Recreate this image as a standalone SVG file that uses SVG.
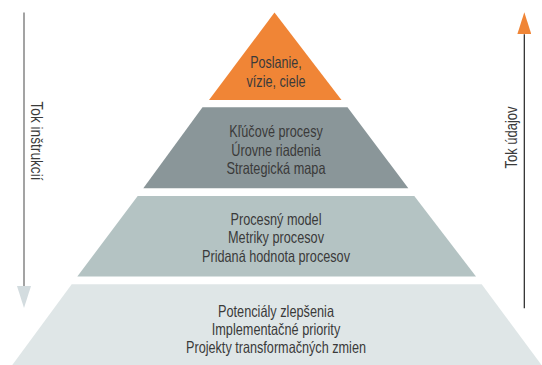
<svg xmlns="http://www.w3.org/2000/svg" width="542" height="365" viewBox="0 0 542 365">
<style>
.t{font-family:"Liberation Sans Narrow","Arial Narrow","Liberation Sans",sans-serif;font-size:16.5px;fill:#3a3a3a;text-anchor:middle}
.lbl{font-family:"Liberation Sans Narrow","Arial Narrow","Liberation Sans",sans-serif;font-size:16px;fill:#3a3a3a;text-anchor:middle}
</style>
<defs>
<marker id="hGray" markerUnits="userSpaceOnUse" viewBox="0 0 22 14" refX="0" refY="7" markerWidth="22" markerHeight="14" orient="auto"><path d="M0,0 L22,7 L0,14 z" fill="#d3dcdf"/></marker>
<marker id="hOrange" markerUnits="userSpaceOnUse" viewBox="0 0 22 14" refX="0" refY="7" markerWidth="22" markerHeight="14" orient="auto"><path d="M0,0 L22,7 L0,14 z" fill="#f08536"/></marker>
</defs>
<rect width="542" height="365" fill="#ffffff"/>
<g id="level4">
<polygon points="71.7,284.3 481.7,284.3 541.5,365 12.3,365" fill="#dfe6e7"/>
<text class="t" x="276" y="316.5" textLength="116" lengthAdjust="spacingAndGlyphs">Potenciály zlepšenia</text>
<text class="t" x="276" y="334.5" textLength="128.5" lengthAdjust="spacingAndGlyphs">Implementačné priority</text>
<text class="t" x="276" y="352.5" textLength="180" lengthAdjust="spacingAndGlyphs">Projekty transformačných zmien</text>
</g>
<g id="level3">
<polygon points="137.7,196 414.3,196 476,276.5 77.3,276.5" fill="#b4c3c3"/>
<text class="t" x="276" y="224.5" textLength="91" lengthAdjust="spacingAndGlyphs">Procesný model</text>
<text class="t" x="276" y="243" textLength="96" lengthAdjust="spacingAndGlyphs">Metriky procesov</text>
<text class="t" x="276" y="261.5" textLength="148" lengthAdjust="spacingAndGlyphs">Pridaná hodnota procesov</text>
</g>
<g id="level2">
<polygon points="202.5,107.3 347.5,107.3 408.3,188.3 143.3,188.3" fill="#8a9699"/>
<text class="t" x="276" y="137" textLength="93.5" lengthAdjust="spacingAndGlyphs">Kľúčové procesy</text>
<text class="t" x="276" y="155.5" textLength="89.5" lengthAdjust="spacingAndGlyphs">Úrovne riadenia</text>
<text class="t" x="276" y="174" textLength="99" lengthAdjust="spacingAndGlyphs">Strategická mapa</text>
</g>
<g id="level1">
<polygon points="274.5,12.5 341.5,100 209,100" fill="#f08536"/>
<text class="t" x="276" y="68" textLength="51.5" lengthAdjust="spacingAndGlyphs">Poslanie,</text>
<text class="t" x="276" y="87" textLength="59" lengthAdjust="spacingAndGlyphs">vízie, ciele</text>
</g>
<g id="connectors">
<line x1="24" y1="12.5" x2="24" y2="286" stroke="#666666" stroke-width="1.2" marker-end="url(#hGray)"/>
<line x1="524.3" y1="308.3" x2="524.3" y2="34.3" stroke="#222222" stroke-width="1.2" marker-end="url(#hOrange)"/>
<text class="lbl" transform="translate(30.5,141) rotate(90)" textLength="79" lengthAdjust="spacingAndGlyphs">Tok inštrukcií</text>
<text class="lbl" transform="translate(517,137.5) rotate(-90)" textLength="62" lengthAdjust="spacingAndGlyphs">Tok údajov</text>
</g>
</svg>
